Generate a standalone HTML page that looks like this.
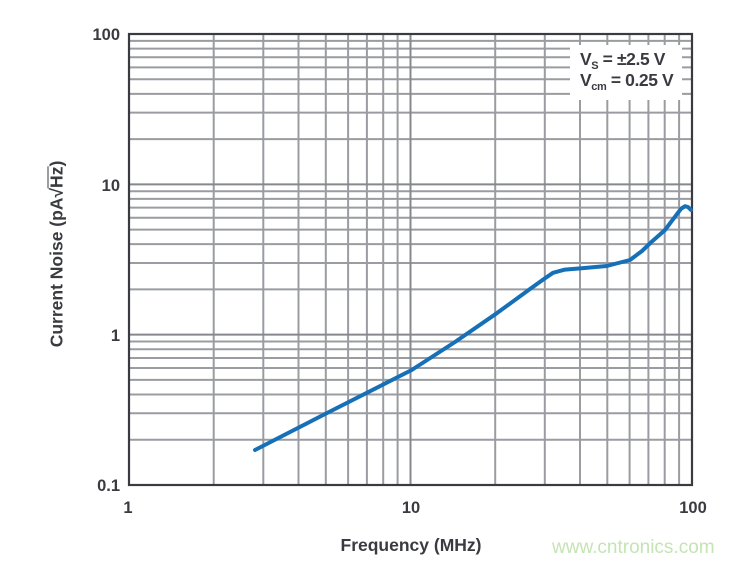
<!DOCTYPE html>
<html><head><meta charset="utf-8"><style>
html,body{margin:0;padding:0;background:#fff;}
body{width:735px;height:563px;position:relative;overflow:hidden;font-family:"Liberation Sans",sans-serif;}
.yl{position:absolute;left:57px;top:254px;transform:translate(-50%,-50%) rotate(-90deg);white-space:nowrap;font-weight:bold;font-size:17.5px;color:#3a3b40;}
.ov{border-top:1.8px solid #3a3b40;line-height:17px;display:inline-block;}
</style></head><body>
<svg width="735" height="563" viewBox="0 0 735 563" xmlns="http://www.w3.org/2000/svg" style="position:absolute;left:0;top:0">
<g stroke="#9a9ca1" stroke-width="2" fill="none">
<path d="M213.7 34V485M263.3 34V485M298.5 34V485M325.8 34V485M348.1 34V485M366.9 34V485M383.2 34V485M397.6 34V485M495.2 34V485M544.8 34V485M580 34V485M607.3 34V485M629.6 34V485M648.4 34V485M664.7 34V485M679.1 34V485"/>
<path d="M129 439.75H692M129 413.27H692M129 394.49H692M129 379.92H692M129 368.02H692M129 357.96H692M129 349.24H692M129 341.55H692M129 289.42H692M129 262.94H692M129 244.16H692M129 229.59H692M129 217.69H692M129 207.63H692M129 198.91H692M129 191.22H692M129 139.08H692M129 112.6H692M129 93.82H692M129 79.25H692M129 67.35H692M129 57.29H692M129 48.57H692M129 40.88H692"/>
</g>
<g stroke="#86888d" stroke-width="2" fill="none">
<path d="M410.5 34V485M129 334.67H692M129 184.33H692"/>
</g>
<rect x="570" y="45" width="112" height="55" fill="#fff"/>
<rect x="129" y="34" width="563" height="451" fill="none" stroke="#3a3b40" stroke-width="2.2"/>
<polyline fill="none" stroke="#1570b8" stroke-width="4" stroke-linejoin="round" stroke-linecap="round"
points="255,450 330,411.5 411.7,370 455,342 496.7,313.3 530,289 545,278.3 553,272.8 565,269.6 581.7,268.3 606.7,266 630,260 642,251 650,243.3 665,230 675,216.7 681,208.8 685,206.2 688,207 691,210"/>
<g font-family="Liberation Sans, sans-serif" font-weight="bold" fill="#3a3b40" font-size="16.5">
<text x="120" y="40" text-anchor="end">100</text>
<text x="120" y="191" text-anchor="end">10</text>
<text x="120" y="341" text-anchor="end">1</text>
<text x="120" y="491" text-anchor="end">0.1</text>
<text x="128" y="513" text-anchor="middle">1</text>
<text x="411" y="513" text-anchor="middle">10</text>
<text x="693" y="513" text-anchor="middle">100</text>
<text x="411" y="551" text-anchor="middle" font-size="17.5">Frequency (MHz)</text>
</g>
<g font-family="Liberation Sans, sans-serif" font-weight="bold" fill="#3a3b40" font-size="17.5" letter-spacing="-0.4">
<text x="580" y="65">V<tspan font-size="11" dy="4">S</tspan><tspan dy="-4"> = ±2.5 V</tspan></text>
<text x="580" y="86">V<tspan font-size="11" dy="4">cm</tspan><tspan dy="-4"> = 0.25 V</tspan></text>
</g>
<text x="552" y="553" font-family="Liberation Sans, sans-serif" font-size="19" fill="#c4e4b4">www.cntronics.com</text>
</svg>
<div class="yl">Current Noise (pA√<span class="ov">Hz</span>)</div>
</body></html>
